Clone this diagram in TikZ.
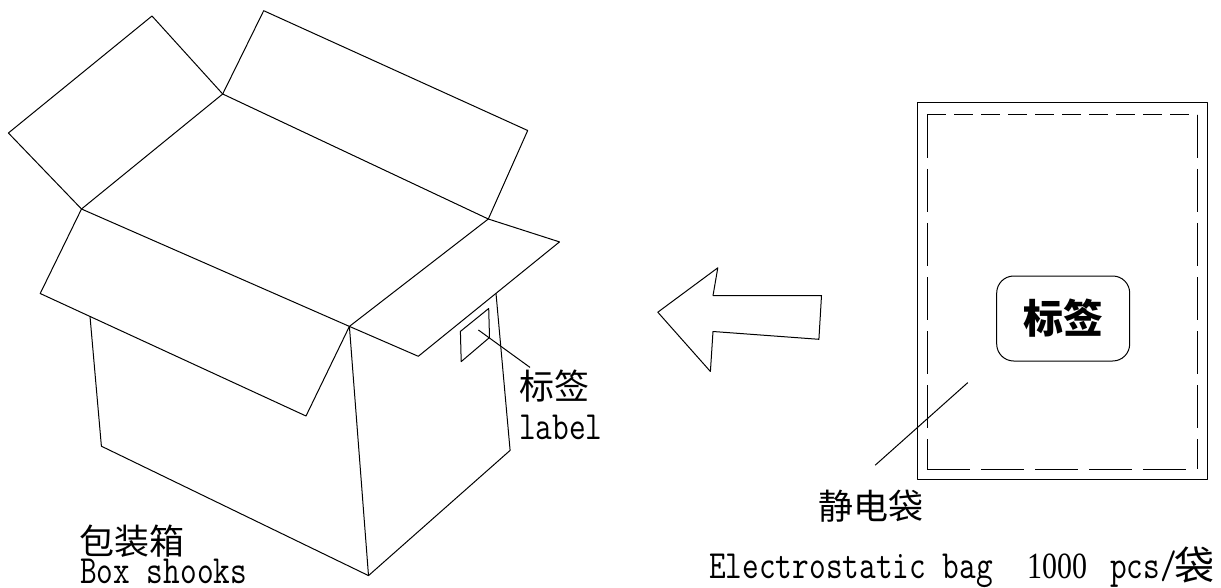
\documentclass[tikz,border=0pt]{standalone}
\usepackage{fontspec}
\usepackage{graphicx}
\newfontfamily\cjk{Noto Sans CJK SC}
\newfontfamily\serf{Liberation Serif}
\newcommand\mtext[1]{\scalebox{0.81}[1]{\ttfamily #1}}
\tikzset{
  edge/.style={draw=black, line width=1pt, line join=round},
  txt/.style={anchor=base west, inner sep=0pt},
  cjk35/.style={font=\cjk\fontsize{35}{40}\selectfont},
  mono40/.style={font=\fontsize{40}{44}\selectfont},
}
\begin{document}
\begin{tikzpicture}[x=1pt,y=-1pt]
\useasboundingbox (0,0) rectangle (1221,588);
% ---- box corners
\coordinate (A) at (152,16);
\coordinate (B) at (8.4,133);
\coordinate (C) at (81.5,209);
\coordinate (D) at (222.7,94);
\coordinate (E) at (263.7,10.7);
\coordinate (F) at (527.7,130.5);
\coordinate (G) at (488.3,219);
\coordinate (H) at (40.2,293.5);
\coordinate (I) at (306,416);
\coordinate (J) at (349.4,326.4);
\coordinate (K) at (559.5,241.9);
\coordinate (L) at (418.3,356.3);
\coordinate (M) at (90,316.3);
\coordinate (N) at (101.4,446.2);
\coordinate (O) at (368.5,575.6);
\coordinate (P) at (510.1,450.4);
\coordinate (Q) at (496,293.4);
% flaps
\draw[edge] (C) -- (B) -- (A) -- (D);
\draw[edge] (D) -- (E) -- (F) -- (G);
\draw[edge] (C) -- (D) -- (G) -- (J) -- cycle;
\draw[edge] (C) -- (H) -- (I) -- (J);
\draw[edge] (G) -- (K) -- (L) -- (J);
% body
\draw[edge] (M) -- (N) -- (O) -- (P) -- (Q);
\draw[edge] (J) -- (O);
% label on box
\draw[edge] (460.4,331.4) coordinate (r1) -- (488.7,308.5) -- (489.5,337.5) -- (461.2,361.6) -- cycle;
\coordinate (lstart) at (478.4,330);
\node[txt, cjk35] (boxlbl) at (519,399) {标签};
\node[txt, mono40] (boxlbl2) at (519,439) {\mtext{label}};
\draw[edge] (lstart) -- (530,367.4) coordinate (lend);
% box caption
\node[txt, cjk35, text depth=1pt] (boxcap) at (79,554) {包装箱};
\node[txt, mono40, text height=24pt, text depth=0pt] (boxcap2) at (80,583) {\mtext{Box shooks}};
% ---- arrow
\draw[edge] (657.8,312.2) coordinate (tip) -- (717.8,267.8) -- (713,295.6) -- (821.5,295.6)
  -- (818.9,339.3) -- (713,331.5) -- (710.4,371.5) -- cycle;
% ---- bag
\draw[edge] (917,103) rectangle (1207,479);
\draw[edge, dash pattern=on 19pt off 8pt] (927,115) -- (1197,115);
\draw[edge, dash pattern=on 43pt off 11pt] (927,115) -- (927,469);
\draw[edge, dash pattern=on 43pt off 11pt] (1197,115) -- (1197,469);
\draw[edge, dash pattern=on 43pt off 11pt] (927,469) -- (1197,469);
\node[draw, line width=1pt, rounded corners=17pt, minimum width=133pt, minimum height=85pt,
  inner sep=0pt, font=\cjk\bfseries\fontsize{40}{44}\selectfont] (baglbl) at (1063.2,318.5) {标签};
\coordinate (bagpt) at (967.8,382.6);
\node[txt, cjk35] (bagcap) at (818,519) {静电袋};
\draw[edge] (bagpt) -- (875.2,465.2) coordinate (bagend);
% caption line
\node[txt, mono40] (e1) at (709,578) {\mtext{Electrostatic bag}};
\node[txt, font=\fontsize{37}{40}\selectfont] (e2) at (1027,578) {\scalebox{0.81}[1]{\serf 1000}};
\node[txt, mono40] (e3) at (1110,578) {\mtext{pcs/}};
\node[txt, font=\cjk\fontsize{40}{44}\selectfont] (e4) at (1174,580) {袋};
\end{tikzpicture}
\end{document}
